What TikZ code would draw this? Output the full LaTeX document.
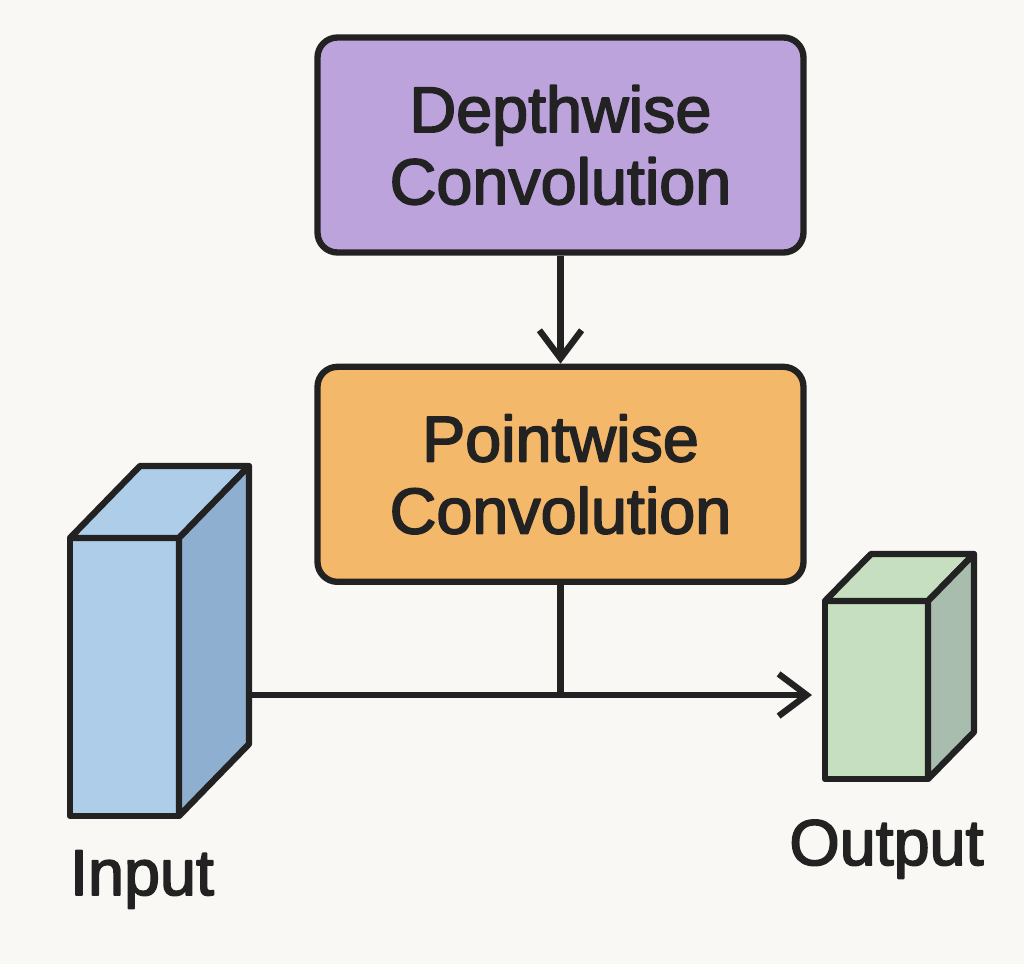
\documentclass[tikz,border=0pt]{standalone}
\usepackage{fontspec}
\setmainfont{Liberation Sans}
\newfontfamily\labelfont{Liberation Sans}[FakeBold=2.6]
\usetikzlibrary{arrows.meta,positioning,calc}
\definecolor{bgcol}{RGB}{249,248,244}
\definecolor{inkcol}{RGB}{34,34,34}
\definecolor{dwpurple}{RGB}{189,163,220}
\definecolor{pworange}{RGB}{244,184,107}
\definecolor{inblue}{RGB}{174,205,233}
\definecolor{inblueside}{RGB}{143,175,208}
\definecolor{outgreen}{RGB}{198,223,192}
\definecolor{outgreenside}{RGB}{168,189,174}

\begin{document}
\begin{tikzpicture}[line width=1.8pt, line join=round,
		block/.style={rectangle, draw=inkcol, rounded corners=0.2cm, minimum width=4.86cm, minimum height=2.15cm, align=center, text=inkcol, font=\labelfont\fontsize{18.4}{20.5}\selectfont},
		face/.style={draw=inkcol, line join=round},
		arr/.style={draw=inkcol, -{Straight Barb[length=8pt,width=12pt]}},
		lbl/.style={anchor=base, text=inkcol, font=\labelfont\fontsize{18.4}{20.5}\selectfont}]
	\fill[bgcol] (0,0) rectangle (10.24,-9.64);
	\useasboundingbox (0,0) rectangle (10.24,-9.64);
	
	% Blocchi
	\node[block, fill=dwpurple] (dw) at (5.605,-1.45) {Depthwise\\Convolution};
	\node[block, fill=pworange, below=1.08cm of dw] (pw) {Pointwise\\Convolution};
	\draw[arr] (dw) -- (pw);
	
	% Input
	\node[face, fill=inblue, minimum width=1.09cm, minimum height=2.78cm, inner sep=0pt, outer sep=0pt] (inp) at (1.245,-6.77) {};
	\filldraw[face, fill=inblue] (inp.north west) -- ++(0.70,0.72) -- ++(1.09,0) -- (inp.north east) -- cycle;
	\filldraw[face, fill=inblueside] (inp.north east) -- ++(0.70,0.72) -- ++(0,-2.78) -- (inp.south east) -- cycle;
	\node[lbl] (inlbl) at (1.42,-8.95) {Input};
	
	% Output
	\node[face, fill=outgreen, minimum width=1.03cm, minimum height=1.78cm, inner sep=0pt, outer sep=0pt] (outp) at (8.765,-6.90) {};
	\filldraw[face, fill=outgreen] (outp.north west) -- ++(0.46,0.47) -- ++(1.03,0) -- (outp.north east) -- cycle;
	\filldraw[face, fill=outgreenside] (outp.north east) -- ++(0.46,0.47) -- ++(0,-1.78) -- (outp.south east) -- cycle;
	\node[lbl] (outlbl) at (8.865,-8.65) {Output};
	
	% Collegamenti
	\coordinate (src) at (2.49,-6.95);
	\coordinate (join) at (pw.south |- src);
	\draw[inkcol] (pw.south) -- (join);
	\draw[arr, shorten >=0.13cm] (src) -- (outp.west |- src);
\end{tikzpicture}
\end{document}
